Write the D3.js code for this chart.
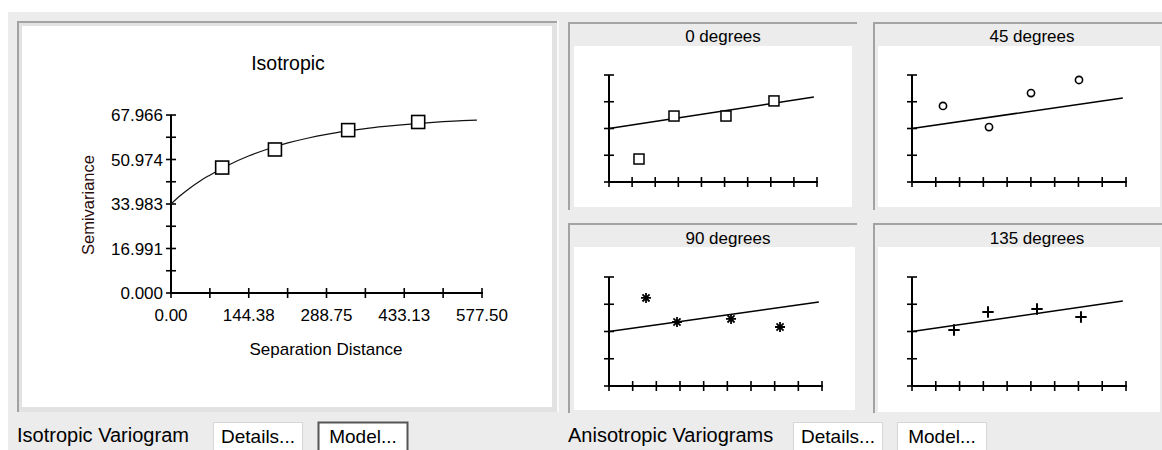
<!DOCTYPE html>
<html>
<head>
<meta charset="utf-8">
<script src="https://cdn.jsdelivr.net/npm/d3@7"></script>
<style>
  html, body { margin: 0; padding: 0; background: #ffffff; }
  svg { display: block; font-family: "Liberation Sans", Arial, sans-serif; }
</style>
</head>
<body>
<svg id="chart" width="1162" height="450"></svg>
<script>
// ---- Isotropic variogram: experimental points and fitted model ----
const isoLagDist   = [95, 193, 329, 459];
const isoSemivar   = [47.9, 54.8, 62.2, 65.3];
const isoModelDist = [0, 18, 36, 54, 72, 108, 144, 180, 217, 253, 289, 325, 361, 397, 433, 469, 505, 541, 568];
const isoModelVal  = [33.98, 37.3, 40.2, 42.8, 45.0, 49.0, 52.3, 55.0, 57.3, 59.1, 60.6, 61.8, 62.8, 63.6, 64.3, 64.9, 65.4, 65.8, 66.0];
const isoYTickLabels = ["0.000", "16.991", "33.983", "50.974", "67.966"];
const isoXTickLabels = ["0.00", "144.38", "288.75", "433.13", "577.50"];

// ---- Anisotropic variograms (one panel per direction) ----
const dirTitles    = ["0 degrees", "45 degrees", "90 degrees", "135 degrees"];
const dir0Dist     = [93.7, 203, 365.4, 515.3];
const dir0Semivar  = [14.6, 41.9, 41.9, 51.5];
const dir45Dist    = [94.1, 233.8, 361.3, 507];
const dir45Semivar = [48.3, 34.9, 56.5, 64.8];
const dir90Dist    = [112.9, 207.4, 372.2, 521.7];
const dir90Semivar = [54.9, 39.9, 41.8, 36.8];
const dir135Dist   = [127.5, 230.7, 379.5, 513];
const dir135Semivar= [34.9, 46.1, 48.0, 43.0];
const dirModelDist = [0, 640];
const dir0Model    = [33.98, 54.0];
const dir45Model   = [33.98, 53.4];
const dir90Model   = [33.98, 52.4];
const dir135Model  = [33.98, 53.0];
const dirXMax = 649.69, dirXStep = 72.19;
const yMax = 67.966;

const svg = d3.select("#chart");
const BG = "#ececec", DARK = "#a3a3a3", LIGHT = "#e2e2e2";

// window body
svg.append("rect").attr("x", 8).attr("y", 12).attr("width", 1154).attr("height", 438).attr("fill", BG);

// sunken frame helper
function sunken(x0, y0, x1, y1, fill) {
  const g = svg.append("g");
  g.append("rect").attr("x", x0).attr("y", y0).attr("width", x1 - x0).attr("height", y1 - y0).attr("fill", fill);
  g.append("rect").attr("x", x0).attr("y", y0).attr("width", x1 - x0).attr("height", 2).attr("fill", DARK);
  g.append("rect").attr("x", x0).attr("y", y0).attr("width", 2).attr("height", y1 - y0).attr("fill", DARK);
  return g;
}

// ---------- left isotropic panel ----------
sunken(17, 21, 557, 412, LIGHT);
svg.append("rect").attr("x", 557).attr("y", 21).attr("width", 2).attr("height", 391).attr("fill", "#fafafa");
svg.append("rect").attr("x", 22).attr("y", 26).attr("width", 530).attr("height", 381).attr("fill", "#ffffff");

const xIso = d3.scaleLinear().domain([0, 577.5]).range([171, 482]);
const yIso = d3.scaleLinear().domain([0, yMax]).range([293, 115]);

const iso = svg.append("g");
iso.append("text").attr("x", 288).attr("y", 70).attr("text-anchor", "middle")
  .attr("font-size", 19.5).attr("fill", "#000").text("Isotropic");

// axes
const axisStyle = sel => sel.attr("stroke", "#000").attr("stroke-width", 2);
const yTickVals = isoYTickLabels.map(Number);
const xTickVals = isoXTickLabels.map(Number);
iso.append("line").attr("x1", xIso(0)).attr("x2", xIso(0)).attr("y1", yIso(0) + 1).attr("y2", yIso(yMax)).call(axisStyle);
iso.append("line").attr("x1", xIso(0) - 1).attr("x2", xIso(577.5) + 1).attr("y1", yIso(0)).attr("y2", yIso(0)).call(axisStyle);

// y ticks incl. minor half-steps
const yAllTicks = d3.range(0, 9).map(i => i * yMax / 8);
iso.selectAll(".yt").data(yAllTicks).join("line")
  .attr("x1", xIso(0) - 5).attr("x2", xIso(0) + 5)
  .attr("y1", d => yIso(d)).attr("y2", d => yIso(d)).attr("stroke", "#000").attr("stroke-width", 1.6);
iso.selectAll(".yl").data(isoYTickLabels).join("text")
  .attr("x", 163).attr("y", d => yIso(+d) + 6).attr("text-anchor", "end")
  .attr("font-size", 17).attr("fill", "#000").text(d => d);

const xAllTicks = d3.range(0, 9).map(i => i * 577.5 / 8);
iso.selectAll(".xt").data(xAllTicks).join("line")
  .attr("x1", d => xIso(d)).attr("x2", d => xIso(d))
  .attr("y1", yIso(0) - 5).attr("y2", yIso(0) + 5).attr("stroke", "#000").attr("stroke-width", 1.6);
iso.selectAll(".xl").data(isoXTickLabels).join("text")
  .attr("x", d => xIso(+d)).attr("y", 321).attr("text-anchor", "middle")
  .attr("font-size", 17).attr("fill", "#000").text(d => d);

iso.append("text").attr("x", 326).attr("y", 355).attr("text-anchor", "middle")
  .attr("font-size", 17).attr("fill", "#000").text("Separation Distance");
iso.append("text").attr("transform", "translate(94,205) rotate(-90)").attr("text-anchor", "middle")
  .attr("font-size", 16.5).attr("fill", "#2a0a0a").text("Semivariance");

// model curve
const isoLine = d3.line().x(d => xIso(d[0])).y(d => yIso(d[1])).curve(d3.curveMonotoneX);
iso.append("path").datum(isoModelDist.map((d, i) => [d, isoModelVal[i]]))
  .attr("d", isoLine).attr("fill", "none").attr("stroke", "#111").attr("stroke-width", 1.2);

// experimental points
iso.selectAll(".pt").data(isoLagDist.map((d, i) => [d, isoSemivar[i]])).join("rect")
  .attr("x", d => xIso(d[0]) - 6.5).attr("y", d => yIso(d[1]) - 6.5)
  .attr("width", 13).attr("height", 13)
  .attr("fill", "#fff").attr("stroke", "#000").attr("stroke-width", 1.6);

// ---------- directional panels ----------
const asterisk = {
  draw(ctx, size) {
    const r = Math.sqrt(size) / 2;
    for (let k = 0; k < 4; k++) {
      const a = k * Math.PI / 4;
      ctx.moveTo(-r * Math.cos(a), -r * Math.sin(a));
      ctx.lineTo(r * Math.cos(a), r * Math.sin(a));
    }
  }
};
const plus = {
  draw(ctx, size) {
    const r = Math.sqrt(size) / 2;
    ctx.moveTo(-r, 0); ctx.lineTo(r, 0);
    ctx.moveTo(0, -r); ctx.lineTo(0, r);
  }
};

const panels = [
  { title: dirTitles[0], dist: dir0Dist, val: dir0Semivar, model: dir0Model,
    frame: [568, 22, 857, 210], white: [574, 46, 852, 207], ax: [609, 817, 182, 75], tx: 723, ty: 42,
    mark: "square" },
  { title: dirTitles[1], dist: dir45Dist, val: dir45Semivar, model: dir45Model,
    frame: [873, 22, 1162, 210], white: [878, 46, 1160, 207], ax: [912, 1126, 182, 75], tx: 1032, ty: 42,
    mark: "circle" },
  { title: dirTitles[2], dist: dir90Dist, val: dir90Semivar, model: dir90Model,
    frame: [568, 223, 857, 413], white: [574, 247, 855, 410], ax: [609, 822, 386, 277], tx: 728, ty: 244,
    mark: "asterisk" },
  { title: dirTitles[3], dist: dir135Dist, val: dir135Semivar, model: dir135Model,
    frame: [873, 223, 1162, 413], white: [878, 247, 1160, 412], ax: [912, 1126, 386, 277], tx: 1037, ty: 244,
    mark: "plus" }
];

panels.forEach(p => {
  const [fx0, fy0, fx1, fy1] = p.frame;
  sunken(fx0, fy0, fx1, fy1, BG);
  const [wx0, wy0, wx1, wy1] = p.white;
  svg.append("rect").attr("x", wx0).attr("y", wy0).attr("width", wx1 - wx0).attr("height", wy1 - wy0).attr("fill", "#fff");
  const g = svg.append("g");
  g.append("text").attr("x", p.tx).attr("y", p.ty).attr("text-anchor", "middle")
    .attr("font-size", 17).attr("fill", "#000").text(p.title);

  const [ax0, ax1, ay0, ay1] = p.ax;
  const x = d3.scaleLinear().domain([0, dirXMax]).range([ax0, ax1]);
  const y = d3.scaleLinear().domain([0, yMax]).range([ay0, ay1]);

  g.append("line").attr("x1", x(0)).attr("x2", x(0)).attr("y1", y(0) + 1).attr("y2", y(yMax)).call(axisStyle);
  g.append("line").attr("x1", x(0) - 1).attr("x2", x(dirXMax) + 1).attr("y1", y(0)).attr("y2", y(0)).call(axisStyle);
  g.selectAll(".yt").data(d3.range(0, 5).map(i => i * yMax / 4)).join("line")
    .attr("x1", x(0) - 5).attr("x2", x(0) + 5).attr("y1", d => y(d)).attr("y2", d => y(d))
    .attr("stroke", "#000").attr("stroke-width", 1.6);
  g.selectAll(".xt").data(d3.range(0, 10).map(i => i * dirXStep)).join("line")
    .attr("x1", d => x(d)).attr("x2", d => x(d)).attr("y1", y(0) - 5).attr("y2", y(0) + 5)
    .attr("stroke", "#000").attr("stroke-width", 1.6);

  g.append("path").datum(dirModelDist.map((d, i) => [d, p.model[i]]))
    .attr("d", d3.line().x(d => x(d[0])).y(d => y(d[1])))
    .attr("fill", "none").attr("stroke", "#000").attr("stroke-width", 1.5);

  const pts = p.dist.map((d, i) => [d, p.val[i]]);
  if (p.mark === "square") {
    g.selectAll(".m").data(pts).join("rect")
      .attr("x", d => x(d[0]) - 5).attr("y", d => y(d[1]) - 5).attr("width", 10).attr("height", 10)
      .attr("fill", "#fff").attr("stroke", "#000").attr("stroke-width", 1.5);
  } else if (p.mark === "circle") {
    g.selectAll(".m").data(pts).join("circle")
      .attr("cx", d => x(d[0])).attr("cy", d => y(d[1])).attr("r", 3.6)
      .attr("fill", "#fff").attr("stroke", "#000").attr("stroke-width", 1.6);
  } else {
    const sym = d3.symbol().type(p.mark === "asterisk" ? asterisk : plus).size(p.mark === "asterisk" ? 100 : 130);
    g.selectAll(".m").data(pts).join("path")
      .attr("transform", d => `translate(${x(d[0])},${y(d[1])})`)
      .attr("d", sym()).attr("fill", "none").attr("stroke", "#000")
      .attr("stroke-width", p.mark === "asterisk" ? 1.8 : 2);
  }
});

// ---------- bottom control strip ----------
function button(x0, x1, label, dark) {
  svg.append("rect").attr("x", x0 + 0.5).attr("y", 422.5).attr("width", x1 - x0 - 1).attr("height", 34)
    .attr("fill", "#fff").attr("stroke", dark ? "#555" : "#d6d6d6").attr("stroke-width", dark ? 2 : 1);
  svg.append("text").attr("x", (x0 + x1) / 2).attr("y", 443).attr("text-anchor", "middle")
    .attr("font-size", 19).attr("fill", "#000").text(label);
}
svg.append("text").attr("x", 17).attr("y", 442).attr("font-size", 20).attr("fill", "#000").text("Isotropic Variogram");
button(213, 303, "Details...", false);
button(318, 408, "Model...", true);
svg.append("text").attr("x", 568).attr("y", 442).attr("font-size", 20).attr("fill", "#000").text("Anisotropic Variograms");
button(793, 883, "Details...", false);
button(897, 987, "Model...", false);
</script>
</body>
</html>
